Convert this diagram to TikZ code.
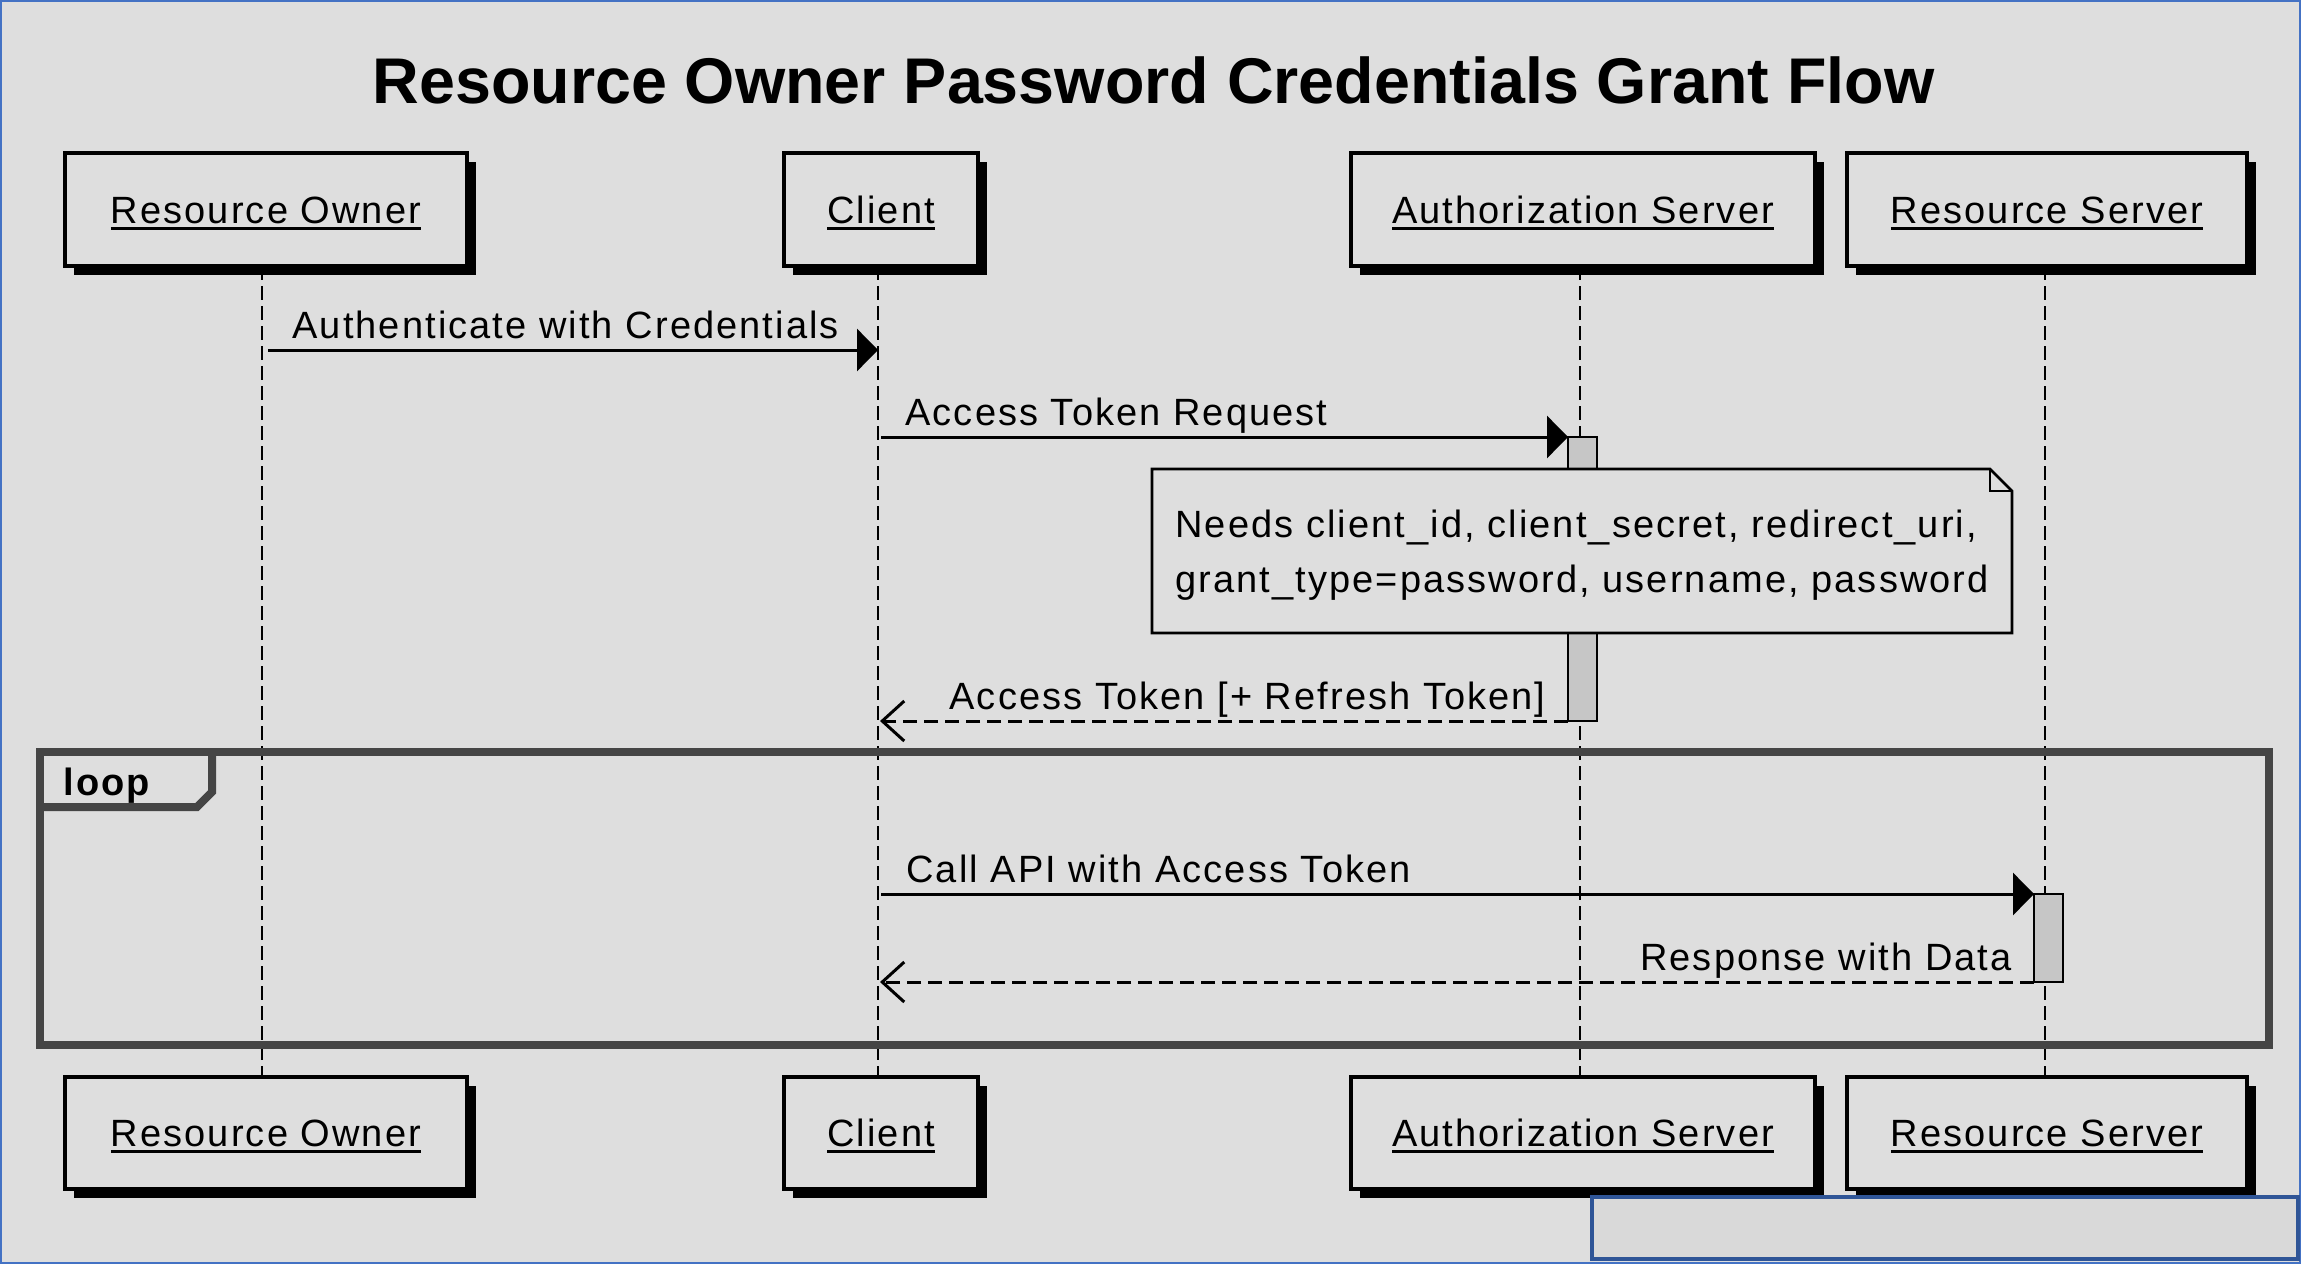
\documentclass[tikz,border=0pt]{standalone}
\usepackage{fontspec}
\setmainfont{Liberation Sans}
\newfontfamily\lsfont[LetterSpace=5.5]{Liberation Sans}
\newfontfamily\titlefont{Liberation Sans}
\usetikzlibrary{arrows.meta,shadows}
\definecolor{bgc}{HTML}{DEDEDE}
\definecolor{actc}{HTML}{C6C6C6}
\definecolor{framec}{HTML}{454545}
\definecolor{outerblue}{HTML}{4472C4}
\definecolor{boxblue}{HTML}{2F5597}
\definecolor{boxfill}{HTML}{D9D9D9}
\newcommand\msgfont{\lsfont\fontsize{19pt}{23pt}\selectfont}
\newcommand\myul[1]{\setbox0\hbox{#1}\leavevmode\rlap{\rule[-3.25pt]{\wd0}{1.5pt}}\box0}
\begin{document}
\begin{tikzpicture}[x=0.5pt,y=-0.5pt,
  pbox/.style={draw=black, line width=1.6pt, fill=bgc, inner sep=0pt, outer sep=0pt,
    text height=13.5pt, text depth=0pt, font=\msgfont,
    general shadow={fill=black, shadow xshift=4.5pt, shadow yshift=-4.5pt}},
  lifeline/.style={line width=1.2pt, dash pattern=on 7pt off 3pt},
  msg/.style={line width=1.5pt, -{Triangle[length=10.5pt,width=21pt]}},
  ret/.style={line width=1.5pt, dash pattern=on 7pt off 3.5pt, -{Straight Barb[length=11pt,width=20pt]}},
  lbl/.style={font=\msgfont, inner sep=0pt},
  actbar/.style={draw=black, line width=1.3pt, fill=actc, inner sep=0pt, outer sep=0pt, anchor=north west},
]
\useasboundingbox (0,0) rectangle (2301,1264);
\fill[bgc] (0,0) rectangle (2301,1264);
\draw[outerblue, line width=1pt] (1,1) rectangle (2300,1263);

% title
\node[font=\titlefont\bfseries\fontsize{32.3pt}{38pt}\selectfont, anchor=base, inner sep=0pt] (title) at (1153.5,103) {Resource Owner Password Credentials Grant Flow};

% participants (top)
\node[pbox, minimum width=201pt, minimum height=56.5pt] (ro) at (266,209.5) {\myul{Resource Owner}};
\node[pbox, minimum width=97pt, minimum height=56.5pt] (cl) at (881,209.5) {\myul{Client}};
\node[pbox, minimum width=232pt, minimum height=56.5pt] (as) at (1583,209.5) {\myul{Authorization Server}};
\node[pbox, minimum width=200pt, minimum height=56.5pt] (rs) at (2047,209.5) {\myul{Resource Server}};
% participants (bottom)
\node[pbox, minimum width=201pt, minimum height=56pt] (ro2) at (266,1133) {\myul{Resource Owner}};
\node[pbox, minimum width=97pt, minimum height=56pt] (cl2) at (881,1133) {\myul{Client}};
\node[pbox, minimum width=232pt, minimum height=56pt] (as2) at (1583,1133) {\myul{Authorization Server}};
\node[pbox, minimum width=200pt, minimum height=56pt] (rs2) at (2047,1133) {\myul{Resource Server}};

% lifelines
\draw[lifeline] ([xshift=-2pt]ro.south) -- ([xshift=-2pt]ro2.north);
\draw[lifeline] ([xshift=-1.5pt]cl.south) -- ([xshift=-1.5pt]cl2.north);
\draw[lifeline] ([xshift=-1.5pt]as.south) -- ([xshift=-1.5pt]as2.north);
\draw[lifeline] ([xshift=-1pt]rs.south) -- ([xshift=-1pt]rs2.north);

% message 1
\coordinate (m1a) at (268,350);
\coordinate (m1b) at (878,350);
\draw[msg] (m1a) -- (m1b);
\node[lbl, anchor=base west] (t1) at (292,338) {Authenticate with Credentials};

% activation on authorization server
\node[actbar, minimum width=14.5pt, minimum height=142pt] (act1) at (1568,437) {};
\coordinate (m2a) at (881,437);
\draw[msg] (m2a) -- (act1.north west);
\node[lbl, anchor=base west] (t2) at (905,425) {Access Token Request};

% note
\node[minimum width=430pt, minimum height=82pt, inner sep=0pt, outer sep=0pt] (note) at (1582,551) {};
\draw[line width=1.3pt, fill=bgc, line join=miter]
  (note.north west) -- ([xshift=-11pt]note.north east) -- ([yshift=-11pt]note.north east)
  -- (note.south east) -- (note.south west) -- cycle;
\draw[line width=1.3pt] ([xshift=-11pt]note.north east) -- ([xshift=-11pt,yshift=-11pt]note.north east) -- ([yshift=-11pt]note.north east);
\node[lbl, anchor=base west] (n1) at (1175,537) {Needs client\_id, client\_secret, redirect\_uri,};
\node[lbl, anchor=base west] (n2) at (1175,592) {grant\_type=password, username, password};

% return 1
\coordinate (m3b) at (880,721);
\draw[ret] (act1.south west) -- (m3b);
\node[lbl, anchor=base east] (t3) at (1546,709) {Access Token [+ Refresh Token]};

% loop frame
\node[draw=framec, line width=4pt, minimum width=1114.5pt, minimum height=146.5pt, inner sep=0pt, outer sep=0pt, anchor=north west] (loopframe) at (40,752) {};
\draw[framec, line width=4pt, line join=miter] (212,752) -- (212,792) -- (197,807) -- (40,807);
\node[font=\msgfont\bfseries, inner sep=0pt, anchor=base west] (looplbl) at (63,795) {loop};

% activation on resource server
\node[actbar, minimum width=14.5pt, minimum height=44pt] (act2) at (2034,894) {};
\coordinate (m4a) at (881,894);
\draw[msg] (m4a) -- (act2.north west);
\node[lbl, anchor=base west] (t4) at (906,882) {Call API with Access Token};

\coordinate (m5b) at (880,982);
\draw[ret] (act2.south west) -- (m5b);
\node[lbl, anchor=base east] (t5) at (2012,970) {Response with Data};

% bottom-right box
\draw[boxblue, line width=2pt, fill=boxfill] (1592,1197) rectangle (2298,1259);
\end{tikzpicture}
\end{document}
